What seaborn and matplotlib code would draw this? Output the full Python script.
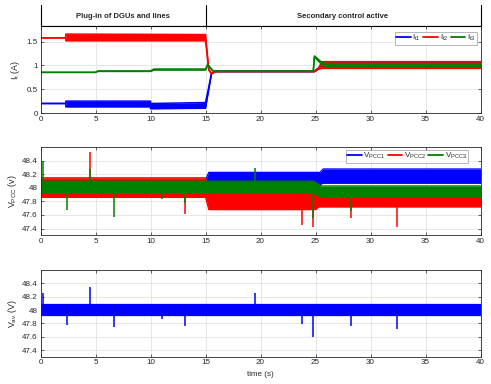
import numpy as np
import pandas as pd
import matplotlib
matplotlib.use("Agg")
import matplotlib.pyplot as plt
import seaborn as sns

sns.set_style("white")
plt.rcParams['font.family'] = ['Liberation Sans', 'DejaVu Sans']
plt.rcParams['mathtext.fontset'] = 'custom'
plt.rcParams['mathtext.rm'] = 'Liberation Sans'
plt.rcParams['mathtext.it'] = 'Liberation Sans'

# ---------------- data ----------------
x_ticks = [0, 5, 10, 15, 20, 25, 30, 35, 40]
phase_labels = ["Plug-in of DGUs and lines", "Secondary control active"]
phase_switch = 15

# Top panel: currents, lower / upper envelope of the noisy traces
I1_t  = [0, 2.3, 2.3, 10, 10, 15.0, 15.3, 15.55, 15.9, 24.9, 25.3, 25.6, 40]
I1_lo = [0.20, 0.20, 0.13, 0.13, 0.09, 0.10, 0.50, 0.83, 0.87, 0.87, 0.93, 0.94, 0.94]
I1_hi = [0.20, 0.20, 0.25, 0.25, 0.20, 0.22, 0.55, 0.84, 0.88, 0.88, 0.95, 1.07, 1.07]

I2_t  = [0, 2.3, 2.3, 15.0, 15.3, 15.55, 15.9, 24.9, 25.3, 25.6, 40]
I2_lo = [1.58, 1.58, 1.52, 1.52, 0.90, 0.82, 0.87, 0.87, 0.93, 0.94, 0.94]
I2_hi = [1.58, 1.58, 1.66, 1.65, 0.92, 0.83, 0.88, 0.88, 0.95, 1.08, 1.08]

I3_t  = [0, 5, 5.2, 10, 10.3, 15.0, 15.2, 15.7, 24.8, 24.9, 25.6, 26.0, 40]
I3_lo = [0.855, 0.855, 0.875, 0.875, 0.905, 0.905, 1.01, 0.875, 0.875, 1.18, 1.01, 0.97, 0.97]
I3_hi = [0.855, 0.855, 0.885, 0.885, 0.925, 0.925, 1.02, 0.885, 0.885, 1.20, 1.06, 1.04, 1.04]

# Middle panel: PCC voltages, envelopes
V1_t  = [0, 15.0, 15.3, 25.4, 25.7, 40]
V1_lo = [47.88, 47.88, 48.05, 48.05, 48.07, 48.07]
V1_hi = [48.12, 48.12, 48.23, 48.23, 48.28, 48.28]

V2_t  = [0, 15.0, 15.3, 25.0, 25.3, 40]
V2_lo = [47.86, 47.86, 47.68, 47.68, 47.72, 47.72]
V2_hi = [48.15, 48.15, 47.92, 47.92, 47.90, 47.90]

V3_t  = [0, 15.0, 24.8, 25.5, 40]
V3_lo = [47.93, 47.93, 47.93, 47.86, 47.86]
V3_hi = [48.10, 48.10, 48.10, 48.03, 48.03]

# spikes (time, value)
V2_spk_t = [4.5, 13.1, 23.8, 24.8, 28.2, 32.4]
V2_spk_v = [48.53, 47.62, 47.45, 47.42, 47.56, 47.42]
V3_spk_t = [0.25, 2.4, 4.5, 6.7, 11.0, 13.1, 19.5, 24.8, 28.2]
V3_spk_v = [48.40, 47.67, 48.28, 47.57, 47.83, 47.78, 48.30, 47.55, 47.66]

# Bottom panel: average voltage
Vav_t  = [0, 40]
Vav_lo = [47.925, 47.925]
Vav_hi = [48.085, 48.085]
Vav_spk_t = [0.2, 4.5, 19.5, 2.4, 6.7, 11.0, 13.1, 23.8, 24.8, 28.2, 32.4]
Vav_spk_v = [48.26, 48.34, 48.26, 47.78, 47.74, 47.87, 47.76, 47.79, 47.60, 47.76, 47.72]

BLUE, RED, GREEN = "#0000ff", "#ff0000", "#008000"
FS = 5.8
DARK = "#262626"

# ---------------- figure ----------------
fig = plt.figure(figsize=(4.91, 3.84), dpi=100)
L, W = 40.5 / 491, 440 / 491

def fr(top_px, bot_px):
    return [L, 1 - bot_px / 384, W, (bot_px - top_px) / 384]

ax_ann = fig.add_axes(fr(5, 26))
ax1 = fig.add_axes(fr(26, 113))
ax2 = fig.add_axes(fr(147.3, 235.3))
ax3 = fig.add_axes(fr(270, 356.7))


def band(ax, t, lo, hi, color, label=None, lw=1.1):
    ax.fill_between(t, lo, hi, color=color, lw=0, zorder=2)
    sns.lineplot(x=t, y=lo, ax=ax, color=color, lw=lw, sort=False,
                 estimator=None, label=label, zorder=2)
    sns.lineplot(x=t, y=hi, ax=ax, color=color, lw=lw, sort=False,
                 estimator=None, zorder=2)


def spikes(ax, t, v, base, color):
    ax.vlines(t, base, v, color=color, lw=1.1, zorder=2)


def style(ax, ylim, yticks, yticklabels):
    ax.set_xlim(0, 40)
    ax.set_ylim(*ylim)
    ax.set_xticks(x_ticks)
    ax.set_xticklabels([str(x) for x in x_ticks])
    ax.set_yticks(yticks)
    ax.set_yticklabels(yticklabels)
    ax.grid(True, color="#e3e3e3", lw=0.6, zorder=0)
    ax.set_axisbelow(True)
    for s in ax.spines.values():
        s.set_color(DARK)
        s.set_linewidth(0.6)
    ax.tick_params(direction="in", length=2.5, width=0.5, labelsize=FS,
                   colors=DARK, pad=2, right=True, top=True,
                   bottom=True, left=True)
    ax.set_xlabel("")


def legend(ax, anchor):
    lg = ax.legend(loc="upper right", bbox_to_anchor=anchor, ncol=3,
                   fontsize=FS, frameon=True, fancybox=False,
                   edgecolor="#7f7f7f", handlelength=1.8, handletextpad=0.2,
                   columnspacing=0.3, borderpad=0.2, borderaxespad=0)
    lg.get_frame().set_linewidth(0.5)
    for ln in lg.get_lines():
        ln.set_linewidth(1.3)


# annotation strip
ax_ann.set_xlim(0, 40)
ax_ann.set_ylim(0, 1)
ax_ann.set_xticks([])
ax_ann.set_yticks([])
ax_ann.spines["top"].set_visible(False)
for s in ["left", "right", "bottom"]:
    ax_ann.spines[s].set_color("black")
    ax_ann.spines[s].set_linewidth(0.8)
ax_ann.axvline(phase_switch, color="black", lw=0.8)
ax_ann.text(phase_switch / 2, 0.45, phase_labels[0], ha="center", va="center",
            fontsize=FS - 0.3, fontweight="bold")
ax_ann.text((phase_switch + 40) / 2, 0.45, phase_labels[1], ha="center",
            va="center", fontsize=FS - 0.3, fontweight="bold")
ax_ann.patch.set_alpha(0)

# top panel
band(ax1, I1_t, I1_lo, I1_hi, BLUE, r"$I_{t1}$")
band(ax1, I2_t, I2_lo, I2_hi, RED, r"$I_{t2}$")
band(ax1, I3_t, I3_lo, I3_hi, GREEN, r"$I_{t3}$")
style(ax1, (0, 1.83), [0, 0.5, 1, 1.5], ["0", "0.5", "1", "1.5"])
ax1.spines["top"].set_color("black")
ax1.spines["top"].set_linewidth(0.8)
ax1.set_ylabel(r"$I_t$ (A)", fontsize=FS + 0.6, color=DARK, labelpad=3)
legend(ax1, (0.992, 0.935))

# middle panel
band(ax2, V1_t, V1_lo, V1_hi, BLUE, r"$V_{PCC1}$", lw=0.9)
band(ax2, V2_t, V2_lo, V2_hi, RED, r"$V_{PCC2}$", lw=0.9)
spikes(ax2, V2_spk_t, V2_spk_v, 48.0, RED)
band(ax2, V3_t, V3_lo, V3_hi, GREEN, r"$V_{PCC3}$", lw=0.9)
spikes(ax2, V3_spk_t, V3_spk_v, 48.0, GREEN)
vt = [47.4, 47.6, 47.8, 48.0, 48.2, 48.4]
vl = ["47.4", "47.6", "47.8", "48", "48.2", "48.4"]
style(ax2, (47.3, 48.6), vt, vl)
ax2.set_ylabel(r"$V_{PCC}$ (v)", fontsize=FS + 0.6, color=DARK, labelpad=2)
legend(ax2, (0.972, 0.975))

# bottom panel
band(ax3, Vav_t, Vav_lo, Vav_hi, BLUE, lw=0.9)
spikes(ax3, Vav_spk_t, Vav_spk_v, 48.0, BLUE)
style(ax3, (47.3, 48.6), vt, vl)
ax3.set_ylabel(r"$V_{av}$ (V)", fontsize=FS + 0.6, color=DARK, labelpad=2)
ax3.set_xlabel("time (s)", fontsize=FS, color=DARK, labelpad=3)

fig.savefig("out.png", dpi=100)
